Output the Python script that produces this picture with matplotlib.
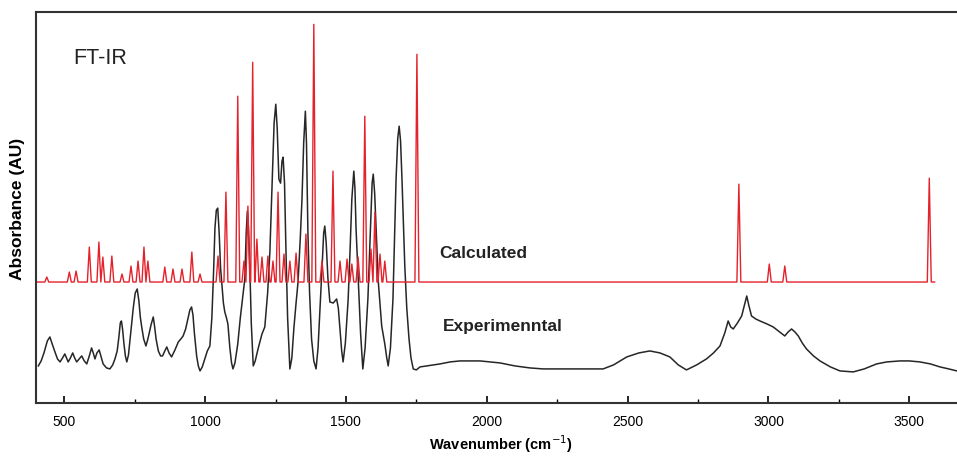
import matplotlib.pyplot as plt
from matplotlib.ticker import MultipleLocator

plt.rcParams['font.family'] = ['Liberation Sans', 'DejaVu Sans']

exp_wn = [408, 418, 428, 440, 449, 456, 467, 476, 485, 494, 502, 508, 514, 522, 530, 537,
          544, 553, 562, 571, 580, 590, 597, 603, 609, 616, 624, 631, 638, 650, 662, 672,
          680, 688, 694, 699, 703, 707, 712, 717, 722, 728, 736, 745, 752, 759, 765, 770,
          775, 782, 790, 796, 801, 808, 816, 821, 826, 834, 842, 849, 857, 864, 872, 881,
          893, 905, 914, 922, 931, 939, 946, 952, 957, 962, 970, 976, 982, 990, 999, 1008,
          1017, 1024, 1030, 1035, 1040, 1045, 1050, 1055, 1059, 1065, 1070, 1076, 1081,
          1088, 1094, 1099, 1106, 1116, 1125, 1134, 1141, 1146, 1150, 1154, 1159, 1164,
          1171, 1178, 1188, 1202, 1212, 1222, 1230, 1238, 1245, 1251, 1256, 1262, 1268,
          1273, 1277, 1282, 1287, 1293, 1301, 1308, 1315, 1323, 1330, 1338, 1344, 1350,
          1356, 1360, 1365, 1371, 1378, 1386, 1394, 1401, 1408, 1416, 1421, 1425, 1430,
          1436, 1443, 1455, 1467, 1473, 1479, 1485, 1490, 1498, 1508, 1515, 1521, 1528,
          1532, 1536, 1544, 1552, 1560, 1568, 1578, 1587, 1593, 1597, 1602, 1608, 1615,
          1627, 1638, 1645, 1650, 1658, 1667, 1673, 1678, 1684, 1689, 1694, 1699, 1704,
          1709, 1716, 1724, 1731, 1739, 1750, 1763, 1787, 1810, 1834, 1870, 1905, 1940,
          1976, 2010, 2047, 2100, 2153, 2200, 2260, 2340, 2413, 2450, 2497, 2540, 2579,
          2615, 2650, 2680, 2709, 2745, 2780, 2805, 2828, 2845, 2857, 2866, 2875, 2890,
          2905, 2915, 2923, 2930, 2940, 2955, 2970, 2995, 3017, 3040, 3058, 3070, 3082,
          3094, 3106, 3120, 3135, 3160, 3183, 3220, 3254, 3301, 3340, 3384, 3420, 3467,
          3500, 3538, 3575, 3609, 3640, 3669]
exp_abs = [0.37, 0.42, 0.50, 0.62, 0.66, 0.60, 0.51, 0.44, 0.41, 0.45, 0.49, 0.45, 0.41,
           0.45, 0.50, 0.45, 0.41, 0.44, 0.47, 0.42, 0.39, 0.48, 0.55, 0.50, 0.44, 0.50,
           0.53, 0.46, 0.39, 0.35, 0.34, 0.38, 0.44, 0.52, 0.66, 0.80, 0.82, 0.74, 0.59,
           0.47, 0.41, 0.48, 0.70, 0.95, 1.10, 1.14, 1.02, 0.86, 0.76, 0.64, 0.57, 0.63,
           0.69, 0.78, 0.86, 0.76, 0.64, 0.52, 0.47, 0.47, 0.52, 0.56, 0.50, 0.46, 0.53,
           0.61, 0.64, 0.67, 0.74, 0.84, 0.93, 0.96, 0.88, 0.70, 0.47, 0.37, 0.32, 0.36,
           0.44, 0.52, 0.57, 0.85, 1.30, 1.75, 1.93, 1.95, 1.70, 1.35, 1.21, 1.00, 0.91,
           0.85, 0.79, 0.55, 0.40, 0.34, 0.40, 0.59, 0.85, 1.07, 1.24, 1.70, 1.92, 1.75,
           1.34, 0.80, 0.37, 0.42, 0.54, 0.69, 0.76, 1.10, 1.51, 2.20, 2.80, 2.99, 2.75,
           2.24, 2.20, 2.42, 2.46, 2.20, 1.54, 0.85, 0.34, 0.45, 0.74, 1.00, 1.21, 1.65,
           2.04, 2.60, 2.92, 2.60, 1.71, 1.10, 0.64, 0.42, 0.34, 0.55, 0.94, 1.40, 1.70,
           1.77, 1.60, 1.25, 1.01, 1.00, 1.04, 0.95, 0.74, 0.52, 0.41, 0.60, 1.04, 1.55,
           2.04, 2.32, 2.15, 1.74, 1.21, 0.70, 0.34, 0.55, 1.04, 1.75, 2.20, 2.29, 2.10,
           1.70, 1.21, 0.77, 0.59, 0.45, 0.37, 0.55, 1.04, 1.70, 2.24, 2.65, 2.77, 2.62,
           2.24, 1.80, 1.37, 0.95, 0.64, 0.45, 0.34, 0.33, 0.36, 0.37, 0.38, 0.39, 0.41,
           0.42, 0.42, 0.42, 0.41, 0.40, 0.37, 0.35, 0.34, 0.34, 0.34, 0.34, 0.38, 0.46,
           0.50, 0.52, 0.50, 0.46, 0.38, 0.33, 0.38, 0.44, 0.50, 0.57, 0.70, 0.82, 0.76,
           0.74, 0.80, 0.87, 0.98, 1.07, 0.98, 0.87, 0.84, 0.82, 0.79, 0.76, 0.71, 0.67,
           0.71, 0.74, 0.71, 0.67, 0.60, 0.54, 0.47, 0.42, 0.36, 0.32, 0.31, 0.34, 0.39,
           0.41, 0.42, 0.42, 0.41, 0.39, 0.36, 0.34, 0.32]

# Calculated spectrum: peak positions and heights
calc_base = 1.21
calc_start, calc_end = 400, 3590
calc_pos = [438, 518, 542, 589, 623, 637, 669, 705, 737, 762, 783, 797, 857, 886, 918,
            953, 982, 1046, 1074, 1116, 1138, 1152, 1169, 1184, 1202, 1223, 1241, 1259,
            1280, 1301, 1323, 1358, 1386, 1415, 1454, 1479, 1504, 1521, 1543, 1567, 1589,
            1603, 1621, 1638, 1752, 2895, 3003, 3058, 3571]
calc_top = [1.26, 1.31, 1.32, 1.56, 1.61, 1.46, 1.47, 1.29, 1.37, 1.42, 1.56, 1.42, 1.36,
            1.34, 1.34, 1.51, 1.29, 1.47, 2.11, 3.07, 1.42, 1.97, 3.41, 1.64, 1.46, 1.47,
            1.42, 2.11, 1.49, 1.42, 1.50, 1.69, 3.79, 1.42, 2.32, 1.42, 1.44, 1.39, 1.46,
            2.87, 1.54, 1.91, 1.49, 1.42, 3.49, 2.19, 1.39, 1.37, 2.25]

calc_x = [calc_start]
calc_y = [calc_base]
for p, h in zip(calc_pos, calc_top):
    calc_x += [p - 7, p, p + 7]
    calc_y += [calc_base, h, calc_base]
calc_x.append(calc_end)
calc_y.append(calc_base)

fig = plt.figure(figsize=(9.57, 4.6), dpi=100)
ax = fig.add_axes([0.0377, 0.122, 0.9713, 0.849])

ax.plot(exp_wn, exp_abs, color='#262626', lw=1.1, solid_joinstyle='round')
ax.plot(calc_x, calc_y, color='#e3222b', lw=1.0)

ax.set_xlim(400, 3700)
ax.set_ylim(0, 3.91)
ax.set_yticks([])
ax.xaxis.set_major_locator(MultipleLocator(500))
ax.xaxis.set_minor_locator(MultipleLocator(250))
ax.tick_params(axis='x', which='major', direction='in', length=5, width=1.2,
               labelsize=10, pad=8)
ax.tick_params(axis='x', which='minor', direction='in', length=3, width=1.0)
for s in ax.spines.values():
    s.set_linewidth(1.5)
    s.set_color('#333333')

ax.text(0.0397, 0.885, 'FT-IR', transform=ax.transAxes, fontsize=15.5,
        color='#222222', va='center')
ax.text(1830, 1.51, 'Calculated', fontsize=12.5, fontweight='bold', color='#222222',
        va='center')
ax.text(1843, 0.77, 'Experimenntal', fontsize=12.5, fontweight='bold', color='#222222',
        va='center')

ax.set_xlabel('Wavenumber (cm$^{-1}$)', fontsize=10.5, fontweight='bold', labelpad=3)
ax.set_ylabel('Absorbance (AU)', fontsize=12.5, fontweight='bold', labelpad=8)

fig.savefig('out.png', dpi=100)
